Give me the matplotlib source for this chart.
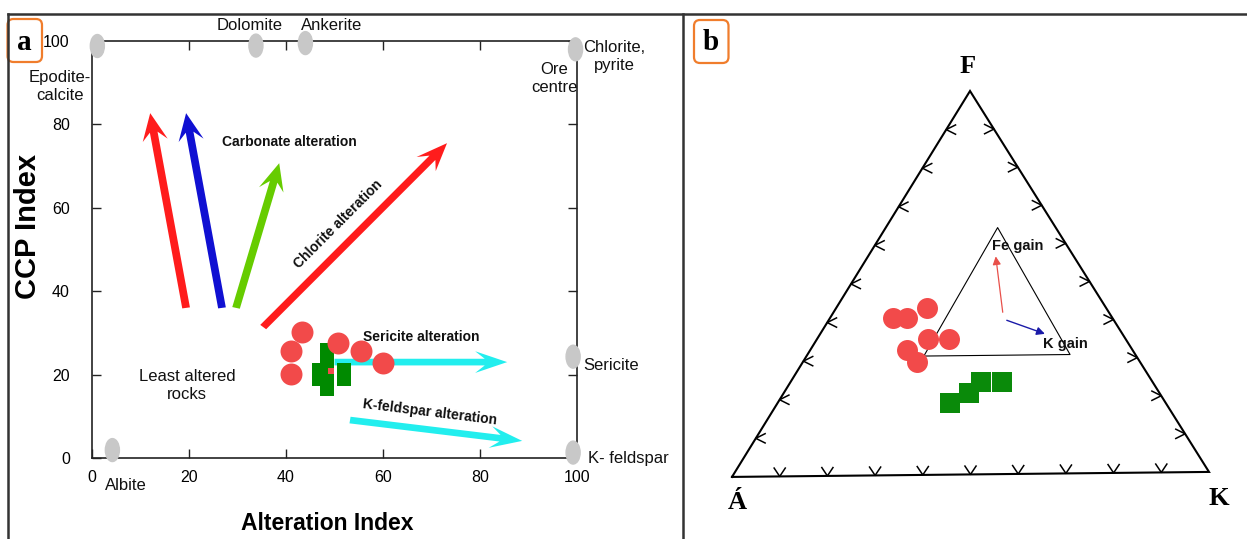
import matplotlib.pyplot as plt
from matplotlib.patches import Ellipse, FancyArrow, FancyBboxPatch
from matplotlib.lines import Line2D
from matplotlib.collections import LineCollection
from matplotlib.transforms import IdentityTransform

SANS = ['Liberation Sans', 'DejaVu Sans']
SERIF = ['Liberation Serif', 'DejaVu Serif']

# ---- panel a: alteration box plot (AI vs CCPI) ----
end_member_ai = [1.1, 33.8, 44.0, 99.7, 99.2, 99.2, 4.2]
end_member_ccpi = [98.8, 98.9, 99.5, 98.0, 24.3, 1.3, 1.9]

sample_ai = [43.3, 41.0, 41.0, 50.7, 55.5, 60.0]
sample_ccpi = [30.2, 25.7, 20.1, 27.6, 25.7, 22.8]

cross_ai = [48.45, 48.45, 48.45, 48.45, 46.9, 46.9, 51.86, 51.86]
cross_ccpi = [25.78, 22.66, 19.54, 16.43, 21.22, 19.06, 21.22, 19.06]

trend_start_ai = [19.4, 26.8, 29.7, 35.3, 50.0, 53.2]
trend_start_ccpi = [36.0, 36.0, 36.0, 31.4, 23.0, 9.1]
trend_end_ai = [12.0, 19.4, 38.6, 73.2, 85.6, 88.7]
trend_end_ccpi = [82.7, 82.7, 70.7, 75.5, 23.0, 4.1]
trend_colors = ['#ff1c1c', '#1010d2', '#66cc00', '#ff1c1c', '#22eeee', '#22eeee']

# ---- panel b: A-F-K ternary (fractions of F and K, A is the rest) ----
red_f = [0.409, 0.409, 0.435, 0.354, 0.354, 0.326, 0.294]
red_k = [0.133, 0.162, 0.191, 0.234, 0.278, 0.204, 0.241]
green_f = [0.1875, 0.2135, 0.24, 0.24]
green_k = [0.363, 0.390, 0.402, 0.446]
inner_f = [0.31, 0.31, 0.643]
inner_k = [0.2475, 0.554, 0.236]
fe_gain_f = [0.422, 0.568]
fe_gain_k = [0.357, 0.2695]
k_gain_f = [0.401, 0.3646]
k_gain_k = [0.376, 0.474]
tick_fracs = [0.1, 0.2, 0.3, 0.4, 0.5, 0.6, 0.7, 0.8, 0.9]

fig = plt.figure(figsize=(12.47, 5.39), dpi=100)

ax = fig.add_axes([92 / 1247, 81 / 539, 485 / 1247, 417 / 539])
ax.set_xlim(0, 100)
ax.set_ylim(0, 100)
ticks = [0, 20, 40, 60, 80, 100]
ax.set_xticks(ticks)
ax.set_yticks(ticks)
ax.tick_params(direction='in', length=6.5, width=1, top=True, right=True,
               labelsize=11.5, colors='#222222', labelcolor='black')
ax.tick_params(axis='x', pad=9)
ax.tick_params(axis='y', pad=16)
for lab in ax.get_xticklabels() + ax.get_yticklabels():
    lab.set_family(SANS)
for sp in ax.spines.values():
    sp.set_linewidth(1.2)
    sp.set_color('#222222')

for x, y in zip(end_member_ai, end_member_ccpi):
    ax.add_patch(Ellipse((x, y), 2.9, 5.5, color='#c8c8c8', clip_on=False, zorder=6))

for x0, y0, x1, y1, c in zip(trend_start_ai, trend_start_ccpi,
                             trend_end_ai, trend_end_ccpi, trend_colors):
    ax.add_patch(FancyArrow(x0, y0, x1 - x0, y1 - y0, width=1.6, head_width=5.2,
                            head_length=6.6, overhang=0.3, length_includes_head=True,
                            color=c, lw=0, zorder=3))

ax.scatter(cross_ai, cross_ccpi, s=88, marker='s', c='#008a00', lw=0, zorder=4)
ax.scatter([49.3], [20.9], s=20, marker='s', c='#f24a4a', lw=0, zorder=4.5)
ax.scatter(sample_ai, sample_ccpi, s=250, c='#f24a4a', lw=0, zorder=5)

lbl = dict(family=SANS, fontsize=12, color='#111111')
ax.text(32.6, 103.6, 'Dolomite', ha='center', va='center', **lbl)
ax.text(49.3, 103.6, 'Ankerite', ha='center', va='center', **lbl)
ax.text(101.2, 96.4, 'Chlorite,\npyrite', ha='left', va='center', multialignment='center',
        linespacing=1.25, **lbl)
ax.text(95.3, 91.1, 'Ore\ncentre', ha='center', va='center', linespacing=1.25, **lbl)
ax.text(-6.6, 89.2, 'Epodite-\ncalcite', ha='center', va='center', linespacing=1.25, **lbl)
ax.text(19.6, 17.3, 'Least altered\nrocks', ha='center', va='center', linespacing=1.25, **lbl)
ax.text(101.2, 22.3, 'Sericite', ha='left', va='center', **lbl)
ax.text(102.3, 0.0, 'K- feldspar', ha='left', va='center', **lbl)
ax.text(7.0, -6.7, 'Albite', ha='center', va='center', **lbl)

bold = dict(family=SANS, fontsize=10, fontweight='bold', color='#111111')
ax.text(40.6, 75.8, 'Carbonate alteration', ha='center', va='center', **bold)
ax.text(50.7, 56.1, 'Chlorite alteration', ha='center', va='center', rotation=45,
        rotation_mode='anchor', **bold)
ax.text(67.8, 29.0, 'Sericite alteration', ha='center', va='center', **bold)
ax.text(69.7, 11.0, 'K-feldspar alteration', ha='center', va='center', rotation=-7,
        rotation_mode='anchor', **bold)

ax.text(-0.132, 0.556, 'CCP Index', transform=ax.transAxes, rotation=90, ha='center',
        va='center', family=SANS, fontsize=21, fontweight='bold')
ax.text(0.4845, -0.158, 'Alteration Index', transform=ax.transAxes, ha='center',
        va='center', family=SANS, fontsize=16.5, fontweight='bold')

# ---- panel b ----
axb = fig.add_axes([690 / 1247, 0, 557 / 1247, 523 / 539])
axb.set_xlim(-0.08805, 1.07966)
axb.set_ylim(-0.16667, 1.19531)
axb.axis('off')

corner_a = (0.0, -0.005)
corner_k = (1.0, 0.008)
corner_f = (0.499, 1.0)


def to_xy(f, k):
    a = 1 - f - k
    x = a * corner_a[0] + f * corner_f[0] + k * corner_k[0]
    y = a * corner_a[1] + f * corner_f[1] + k * corner_k[1]
    return x, y


def to_xy_list(fs, ks):
    pts = [to_xy(f, k) for f, k in zip(fs, ks)]
    return [p[0] for p in pts], [p[1] for p in pts]


tri_x = [corner_a[0], corner_k[0], corner_f[0], corner_a[0]]
tri_y = [corner_a[1], corner_k[1], corner_f[1], corner_a[1]]
axb.plot(tri_x, tri_y, color='black', lw=1.5, solid_joinstyle='miter')

# chevron ticks along the three edges
px_x, px_y = 1 / 477, 1 / 384
segs = []
for t in tick_fracs:
    lx = corner_a[0] + t * (corner_f[0] - corner_a[0])
    ly = corner_a[1] + t * (corner_f[1] - corner_a[1])
    segs.append([(lx + 10 * px_x, ly + 5 * px_y), (lx, ly), (lx + 10 * px_x, ly - 5 * px_y)])
    rx = corner_k[0] + t * (corner_f[0] - corner_k[0])
    ry = corner_k[1] + t * (corner_f[1] - corner_k[1])
    segs.append([(rx - 10 * px_x, ry + 5 * px_y), (rx, ry), (rx - 10 * px_x, ry - 5 * px_y)])
    bx = corner_a[0] + t * (corner_k[0] - corner_a[0])
    by = corner_a[1] + t * (corner_k[1] - corner_a[1])
    segs.append([(bx - 6 * px_x, by + 9 * px_y), (bx, by), (bx + 6 * px_x, by + 9 * px_y)])
axb.add_collection(LineCollection(segs, colors='black', linewidths=1.1))

ix, iy = to_xy_list(inner_f, inner_k)
axb.plot(ix + ix[:1], iy + iy[:1], color='black', lw=0.8)

fx, fy = to_xy_list(fe_gain_f, fe_gain_k)
axb.annotate('', xy=(fx[1], fy[1]), xytext=(fx[0], fy[0]),
             arrowprops=dict(arrowstyle='-|>', color='#e8504a', lw=0.9,
                             mutation_scale=12, shrinkA=0, shrinkB=0))
kx, ky = to_xy_list(k_gain_f, k_gain_k)
axb.annotate('', xy=(kx[1], ky[1]), xytext=(kx[0], ky[0]),
             arrowprops=dict(arrowstyle='-|>', color='#1a1aa8', lw=1.0,
                             mutation_scale=12, shrinkA=0, shrinkB=0))

gx, gy = to_xy_list(green_f, green_k)
axb.scatter(gx, gy, s=207, marker='s', c='#0a8a0a', lw=0, zorder=4)
rx_, ry_ = to_xy_list(red_f, red_k)
axb.scatter(rx_, ry_, s=228, c='#f24a4a', lw=0, zorder=5)

small = dict(family=SANS, fontsize=10.5, fontweight='bold', color='#111111')
axb.text(0.5996, 0.5964, 'Fe gain', ha='center', va='center', **small)
axb.text(0.698, 0.341, 'K gain', ha='center', va='center', **small)

vert = dict(family=SERIF, fontsize=19, fontweight='bold', ha='center', va='center')
axb.text(0.4937, 1.0625, 'F', **vert)
axb.text(0.0105, -0.0729, 'Á', **vert)
axb.text(1.021, -0.0599, 'K', **vert)

# ---- frame and panel letters ----
frame = dict(color='#333333', lw=1.8, transform=fig.transFigure)
fig.add_artist(Line2D([7.5 / 1247, 1], [525 / 539, 525 / 539], **frame))
fig.add_artist(Line2D([7.5 / 1247, 7.5 / 1247], [0, 525 / 539], **frame))
fig.add_artist(Line2D([683 / 1247, 683 / 1247], [0, 525 / 539], **frame))

for (bx0, by0), letter, (tx, ty) in [((7.5, 539 - 62), 'a', (24.5, 539 - 42)),
                                     ((694, 539 - 63), 'b', (711, 539 - 42))]:
    fig.add_artist(FancyBboxPatch((bx0, by0), 34.5, 43,
                                  boxstyle='round,pad=0,rounding_size=6',
                                  transform=IdentityTransform(), fc='white',
                                  ec='#f07d2c', lw=1.6))
    fig.text(tx / 1247, ty / 539, letter, family=SERIF, fontsize=21, fontweight='bold',
             ha='center', va='center')

fig.savefig('out.png', dpi=100)
